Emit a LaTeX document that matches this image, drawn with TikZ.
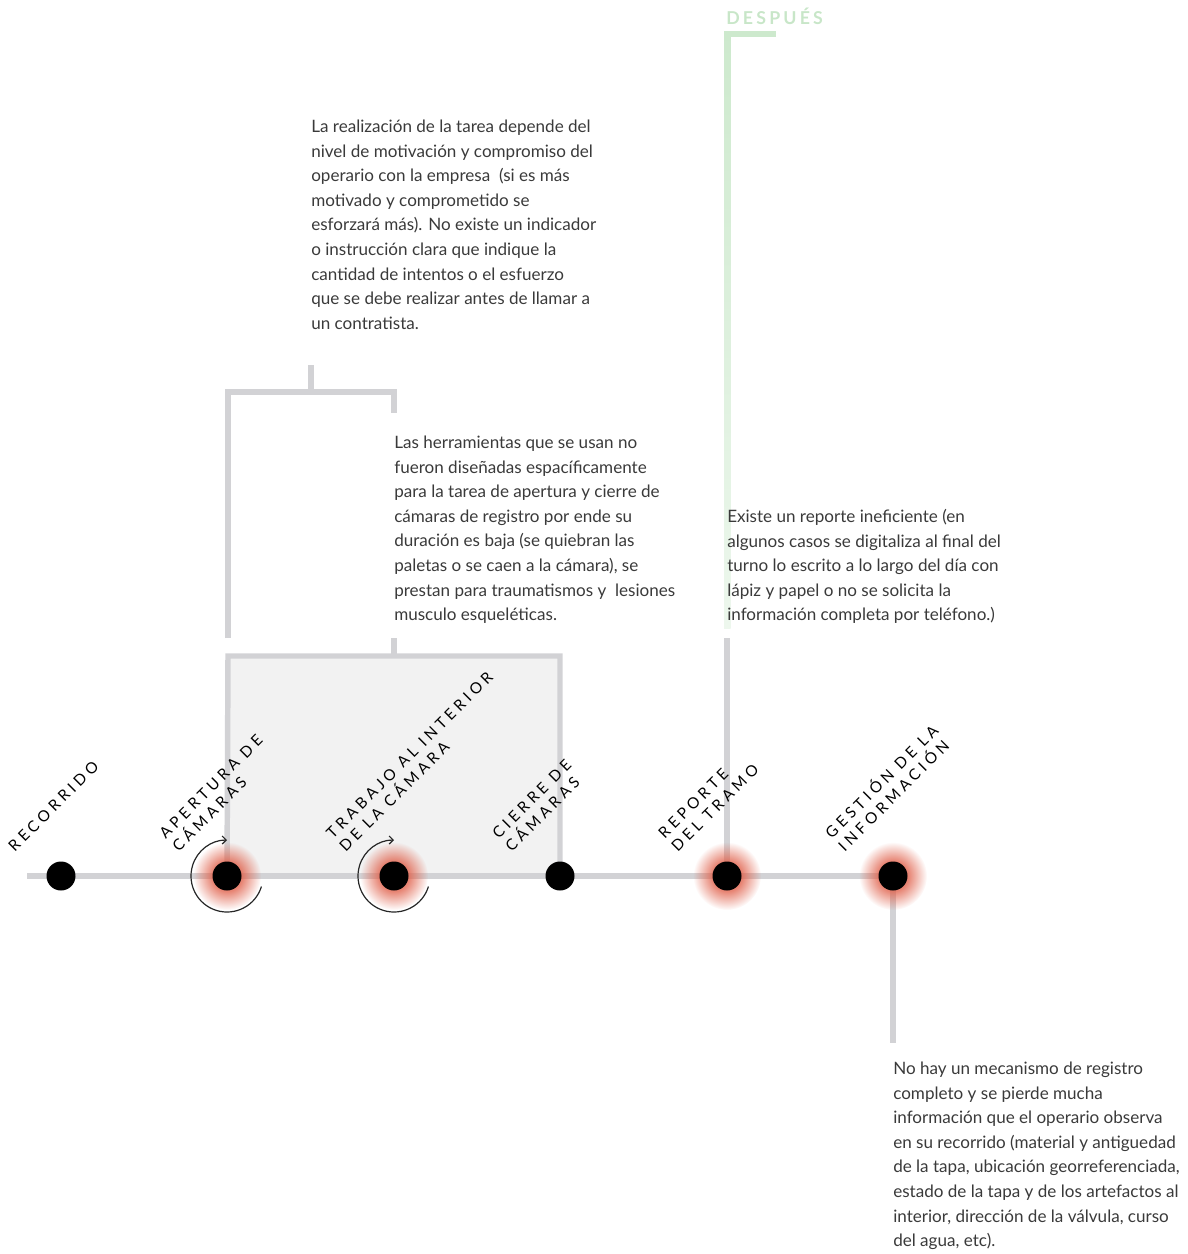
\documentclass[tikz,border=0pt]{standalone}
\usepackage{fontspec}
\setmainfont{Lato}
\newfontfamily\labelfont[LetterSpace=26]{Lato}
\newfontfamily\headfont[LetterSpace=18]{Lato}
\usetikzlibrary{fadings,arrows.meta}
\definecolor{linegray}{HTML}{D2D2D5}
\definecolor{boxfill}{HTML}{F2F2F2}
\definecolor{txtgray}{HTML}{3A3A3A}
\definecolor{greentop}{HTML}{CDE9CD}
\definecolor{greenbot}{HTML}{EDF7ED}
\definecolor{greentext}{HTML}{C8E6C8}
\definecolor{glowred}{HTML}{E0604A}
\pgfdeclareradialshading{glowshade}{\pgfpointorigin}{color(0bp)=(transparent!22); color(11bp)=(transparent!22); color(25bp)=(transparent!100); color(50bp)=(transparent!100)}
\pgfdeclarefading{glowfade}{\pgfuseshading{glowshade}}
\begin{document}
\begin{tikzpicture}[x=0.75pt,y=-0.75pt,
  gline/.style={draw=linegray, line width=4.1pt},
  dot/.style={circle, fill=black, minimum size=21.75pt, inner sep=0pt},
  body/.style={anchor=north west, inner sep=0pt, align=left, text=txtgray,
    font=\fontsize{12.8}{18.4}\selectfont},
  steplabel/.style={anchor=south west, inner sep=0pt, align=left, rotate=45,
    font=\labelfont\fontsize{11.5}{13.8}\selectfont},
  turn/.style={line width=0.9pt, draw=black!85, -{Straight Barb[length=3pt,width=6pt]}},
  glow/.style={fill=glowred, path fading=glowfade}
]
\useasboundingbox (0,0) rectangle (1188,1254);

% coordinates
\coordinate (start) at (27,876);
\coordinate (boxtl) at (228,656);
\coordinate (boxtr) at (560,656);
\coordinate (brbl) at (228,638);
\coordinate (brtl) at (228,392);
\coordinate (brtr) at (394,392);
\coordinate (brbr) at (394,413);
\coordinate (stubtop) at (311,365);
\coordinate (stubbot) at (311,392);
\coordinate (midtop) at (394,638);
\coordinate (reptop) at (727,638);
\coordinate (gestbot) at (893,1043);

% shaded box
\fill[boxfill] (228,656) rectangle (560,876);

% green "despues" line
\shade[top color=greentop, bottom color=greenbot] (724.2,31) rectangle (730.5,628);
\fill[greentop] (724.2,31) rectangle (776,37);
\node[anchor=base west, inner sep=0pt, text=greentext, font=\headfont\bfseries\fontsize{13.3}{14}\selectfont] (despues) at (726,24) {DESPUÉS};

% connectors
\draw[gline] (start) -- (227,876) -- (394,876) -- (560,876) -- (727,876) -- (893,876);
\draw[gline] (227,876) -- (boxtl) -- (boxtr) -- (560,876);
\draw[gline] (brbl) -- (brtl) -- (brtr) -- (brbr);
\draw[gline] (stubtop) -- (stubbot);
\draw[gline] (midtop) -- (boxtl -| midtop);
\draw[gline] (reptop) -- (727,876);
\draw[gline] (893,876) -- (gestbot);

% glows
\fill[glow] (227,876) circle (25.5pt);
\fill[glow] (394,876) circle (25.5pt);
\fill[glow] (727,876) circle (25.5pt);
\fill[glow] (893,876) circle (25.5pt);

% nodes
\node[dot] (n1) at (61,876) {};
\node[dot] (n2) at (227,876) {};
\node[dot] (n3) at (394,876) {};
\node[dot] (n4) at (560,876) {};
\node[dot] (n5) at (727,876) {};
\node[dot] (n6) at (893,876) {};

% turning arrows
\draw[turn] ([shift={(17:36)}]n2.center) arc[start angle=17, end angle=270, radius=36];
\draw[turn] ([shift={(17:36)}]n3.center) arc[start angle=17, end angle=270, radius=36];

% step labels
\node[steplabel] (l1) at (15,853) {RECORRIDO};
\node[steplabel] (l2) at (179,853) {APERTURA DE\\CÁMARAS};
\node[steplabel] (l3) at (346,853) {TRABAJO AL INTERIOR\\DE LA CÁMARA};
\node[steplabel] (l4) at (512,853) {CIERRE DE\\CÁMARAS};
\node[steplabel] (l5) at (678,853) {REPORTE\\DEL TRAMO};
\node[steplabel] (l6) at (845,853) {GESTIÓN DE LA\\INFORMACIÓN};

% body texts
\node[body] (t1) at (311,120) {La realización de la tarea depende del\\nivel de motivación y compromiso del\\operario con la empresa \ (si es más\\motivado y comprometido se\\esforzará más). No existe un indicador\\o instrucción clara que indique la\\cantidad de intentos o el esfuerzo\\que se debe realizar antes de llamar a\\un contratista.};
\node[body] (t2) at (394,436) {Las herramientas que se usan no\\fueron diseñadas espacíficamente\\para la tarea de apertura y cierre de\\cámaras de registro por ende su\\duración es baja (se quiebran las\\paletas o se caen a la cámara), se\\prestan para traumatismos y \ lesiones\\musculo esqueléticas.};
\node[body] (t3) at (727,509) {Existe un reporte ineficiente (en\\algunos casos se digitaliza al final del\\turno lo escrito a lo largo del día con\\lápiz y papel o no se solicita la\\información completa por teléfono.)};
\node[body] (t4) at (893,1062) {No hay un mecanismo de registro\\completo y se pierde mucha\\información que el operario observa\\en su recorrido (material y antiguedad\\de la tapa, ubicación georreferenciada,\\estado de la tapa y de los artefactos al\\interior, dirección de la válvula, curso\\del agua, etc).};
\end{tikzpicture}
\end{document}
